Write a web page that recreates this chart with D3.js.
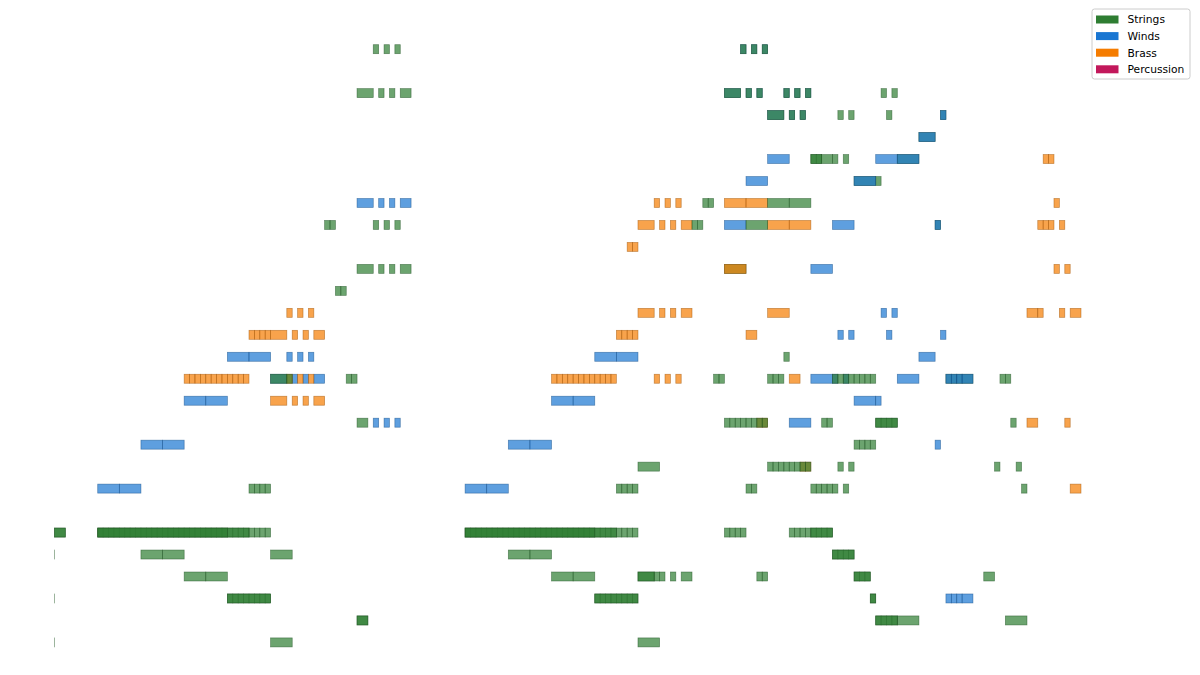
<!DOCTYPE html>
<html><head><meta charset="utf-8">
<script src="https://cdn.jsdelivr.net/npm/d3@7"></script>
<style>body{margin:0;background:#fff}svg{display:block}</style>
</head><body><svg id="c" width="1200" height="675"></svg>
<script>
// Instrument families (legend order) and colours
const families = ['Strings', 'Winds', 'Brass', 'Percussion'];
const familyColors = ['#2e7d32', '#1976d2', '#f57c00', '#c2185b'];

// Notes: [start beat, end beat, pitch]
const windsLayer1 = [
  [15.875,16,79],[16.125,16.25,79],[16.375,16.5,79],
  [15.5,15.875,77],[16,16.125,77],[16.25,16.375,77],[16.875,17,77],[17.125,17.25,77],[17.375,17.5,77],
  [16.5,16.875,76],[17,17.125,76],[17.25,17.375,76],
  [16.5,17,74],[19,19.5,74],
  [16,16.5,73],
  [7,7.375,72],[7.5,7.625,72],[7.75,7.875,72],[8,8.25,72],
  [15.5,16,71],[18,18.5,71],
  [17.5,18,69],
  [19.125,19.25,67],[19.375,19.5,67],
  [18.125,18.25,66],[18.375,18.5,66],[19.25,19.375,66],[20.5,20.625,66],
  [4,4.5,65],[4.5,5,65],[5.375,5.5,65],[5.625,5.75,65],[5.875,6,65],[12.5,13,65],[13,13.5,65],[20,20.375,65],
  [5,5.375,64],[5.5,5.625,64],[5.75,5.875,64],[6,6.25,64],[17.5,18,64],[18,18.125,64],[18.25,18.375,64],[19.5,20,64],
  [3,3.5,63],[3.5,4,63],[11.5,12,63],[12,12.5,63],[18.5,19,63],[19,19.125,63],
  [7.375,7.5,62],[7.625,7.75,62],[7.875,8,62],[17,17.5,62],
  [2,2.5,61],[2.5,3,61],[10.5,11,61],[11,11.5,61],[20.375,20.5,61],
  [1,1.5,59],[1.5,2,59],[9.5,10,59],[10,10.5,59],
  [20.625,20.75,54],[20.75,20.875,54],[20.875,21,54],[21,21.25,54]
];

const brassLayer1 = [
  [22.875,23,74],[23,23.125,74],
  [13.875,14,72],[14.125,14.25,72],[14.375,14.5,72],[15.5,16,72],[16,16.5,72],[23.125,23.25,72],
  [13.5,13.875,71],[14,14.125,71],[14.25,14.375,71],[14.5,14.75,71],[16.5,17,71],[17,17.5,71],
  [22.75,22.875,71],[22.875,23,71],[23,23.125,71],[23.25,23.375,71],
  [13.25,13.375,70],[13.375,13.5,70],
  [23.125,23.25,69],[23.375,23.5,69],
  [5.375,5.5,67],[5.625,5.75,67],[5.875,6,67],[13.5,13.875,67],[14,14.125,67],[14.25,14.375,67],[14.5,14.75,67],
  [16.5,17,67],[22.5,22.75,67],[22.75,22.875,67],[23.25,23.375,67],[23.5,23.75,67],
  [4.5,4.625,66],[4.625,4.75,66],[4.75,4.875,66],[4.875,5,66],[5,5.375,66],[5.5,5.625,66],[5.75,5.875,66],[6,6.25,66],
  [13,13.125,66],[13.125,13.25,66],[13.25,13.375,66],[13.375,13.5,66],[16,16.25,66],
  [3,3.125,64],[3.125,3.25,64],[3.25,3.375,64],[3.375,3.5,64],[3.5,3.625,64],[3.625,3.75,64],
  [3.75,3.875,64],[3.875,4,64],[4,4.125,64],[4.125,4.25,64],[4.25,4.375,64],[4.375,4.5,64],
  [5.375,5.5,64],[5.625,5.75,64],[5.875,6,64],
  [11.5,11.625,64],[11.625,11.75,64],[11.75,11.875,64],[11.875,12,64],[12,12.125,64],[12.125,12.25,64],
  [12.25,12.375,64],[12.375,12.5,64],[12.5,12.625,64],[12.625,12.75,64],[12.75,12.875,64],[12.875,13,64],
  [13.875,14,64],[14.125,14.25,64],[14.375,14.5,64],[17,17.25,64],
  [5,5.375,63],[5.5,5.625,63],[5.75,5.875,63],[6,6.25,63],
  [16.25,16.375,62],[16.375,16.5,62],[22.5,22.75,62],[23.375,23.5,62],
  [17.25,17.375,60],[17.375,17.5,60],
  [23.5,23.75,59]
];

const stringsLayer1 = [
  [7.375,7.5,79],[7.625,7.75,79],[7.875,8,79],[15.875,16,79],[16.125,16.25,79],[16.375,16.5,79],
  [7,7.375,77],[7.5,7.625,77],[7.75,7.875,77],[8,8.25,77],[15.5,15.875,77],[16,16.125,77],[16.25,16.375,77],
  [16.875,17,77],[17.125,17.25,77],[17.375,17.5,77],[19.125,19.25,77],[19.375,19.5,77],
  [16.5,16.875,76],[17,17.125,76],[17.25,17.375,76],[18.125,18.25,76],[18.375,18.5,76],[19.25,19.375,76],
  [17.5,17.625,74],[17.625,17.75,74],[17.75,18,74],[18,18.125,74],[18.25,18.375,74],
  [19,19.125,73],
  [15,15.125,72],[15.125,15.25,72],[16.5,17,72],[17,17.5,72],
  [6.25,6.375,71],[6.375,6.5,71],[7.375,7.5,71],[7.625,7.75,71],[7.875,8,71],[14.75,14.875,71],[14.875,15,71],[16,16.5,71],
  [7,7.375,69],[7.5,7.625,69],[7.75,7.875,69],[8,8.25,69],[15.5,16,69],
  [6.5,6.625,68],[6.625,6.75,68],
  [16.875,17,65],
  [5,5.375,64],[5.375,5.5,64],[6.75,6.875,64],[6.875,7,64],[15.25,15.375,64],[15.375,15.5,64],
  [16.5,16.625,64],[16.625,16.75,64],[16.75,16.875,64],[18,18.125,64],[18.125,18.25,64],[18.25,18.375,64],
  [18.375,18.5,64],[18.5,18.625,64],[18.625,18.75,64],[18.75,18.875,64],[18.875,19,64],[21.875,22,64],[22,22.125,64],
  [7,7.25,62],[15.5,15.625,62],[15.625,15.75,62],[15.75,15.875,62],[15.875,16,62],[16,16.125,62],[16.125,16.25,62],
  [16.25,16.375,62],[16.375,16.5,62],[17.75,17.875,62],[17.875,18,62],[19,19.125,62],[19.125,19.25,62],
  [19.25,19.375,62],[19.375,19.5,62],[22.125,22.25,62],
  [18.5,18.625,61],[18.625,18.75,61],[18.75,18.875,61],[18.875,19,61],
  [13.5,14,60],[16.5,16.625,60],[16.625,16.75,60],[16.75,16.875,60],[16.875,17,60],[17,17.125,60],[17.125,17.25,60],
  [17.25,17.375,60],[17.375,17.5,60],[18.125,18.25,60],[18.375,18.5,60],[21.75,21.875,60],[22.25,22.375,60],
  [4.5,4.625,59],[4.625,4.75,59],[4.75,4.875,59],[4.875,5,59],[13,13.125,59],[13.125,13.25,59],[13.25,13.375,59],
  [13.375,13.5,59],[16,16.125,59],[16.125,16.25,59],[17.5,17.625,59],[17.625,17.75,59],[17.75,17.875,59],
  [17.875,18,59],[18,18.125,59],[18.25,18.375,59],[22.375,22.5,59],
  [0,0.25,57],
  [1,1.125,57],[1.125,1.25,57],[1.25,1.375,57],[1.375,1.5,57],[1.5,1.625,57],[1.625,1.75,57],[1.75,1.875,57],[1.875,2,57],
  [2,2.125,57],[2.125,2.25,57],[2.25,2.375,57],[2.375,2.5,57],[2.5,2.625,57],[2.625,2.75,57],[2.75,2.875,57],[2.875,3,57],
  [3,3.125,57],[3.125,3.25,57],[3.25,3.375,57],[3.375,3.5,57],[3.5,3.625,57],[3.625,3.75,57],[3.75,3.875,57],[3.875,4,57],
  [4,4.125,57],[4.125,4.25,57],[4.25,4.375,57],[4.375,4.5,57],[4.5,4.625,57],[4.625,4.75,57],[4.75,4.875,57],[4.875,5,57],
  [9.5,9.625,57],[9.625,9.75,57],[9.75,9.875,57],[9.875,10,57],[10,10.125,57],[10.125,10.25,57],[10.25,10.375,57],[10.375,10.5,57],
  [10.5,10.625,57],[10.625,10.75,57],[10.75,10.875,57],[10.875,11,57],[11,11.125,57],[11.125,11.25,57],[11.25,11.375,57],[11.375,11.5,57],
  [11.5,11.625,57],[11.625,11.75,57],[11.75,11.875,57],[11.875,12,57],[12,12.125,57],[12.125,12.25,57],[12.25,12.375,57],[12.375,12.5,57],
  [12.5,12.625,57],[12.625,12.75,57],[12.75,12.875,57],[12.875,13,57],[13,13.125,57],[13.125,13.25,57],[13.25,13.375,57],[13.375,13.5,57],
  [15.5,15.625,57],[15.625,15.75,57],[15.75,15.875,57],[15.875,16,57],
  [17,17.125,57],[17.125,17.25,57],[17.25,17.375,57],[17.375,17.5,57],[17.5,17.625,57],[17.625,17.75,57],[17.75,17.875,57],[17.875,18,57],
  [0,0,56],[2,2.5,56],[2.5,3,56],[5,5.5,56],[10.5,11,56],[11,11.5,56],[18,18.125,56],[18.125,18.25,56],[18.25,18.375,56],[18.375,18.5,56],
  [3,3.5,55],[3.5,4,55],[11.5,12,55],[12,12.5,55],[13.5,13.875,55],[13.875,14,55],[14,14.125,55],[14.25,14.375,55],
  [14.5,14.75,55],[16.25,16.375,55],[16.375,16.5,55],[18.5,18.625,55],[18.625,18.75,55],[18.75,18.875,55],[21.5,21.75,55],
  [0,0,54],[4,4.125,54],[4.125,4.25,54],[4.25,4.375,54],[4.375,4.5,54],[4.5,4.625,54],[4.625,4.75,54],[4.75,4.875,54],[4.875,5,54],
  [12.5,12.625,54],[12.625,12.75,54],[12.75,12.875,54],[12.875,13,54],[13,13.125,54],[13.125,13.25,54],[13.25,13.375,54],[13.375,13.5,54],
  [18.875,19,54],
  [7,7.25,53],[19,19.125,53],[19.125,19.25,53],[19.25,19.375,53],[19.375,19.5,53],[19.5,20,53],[22,22.5,53],
  [0,0,52],[5,5.5,52],[13.5,14,52]
];

const stringsLayer2 = [
  [17.5,17.75,74],
  [19,19.5,62],
  [0,0.25,57],[1,4.5,57],[9.5,13,57],[17.5,18,57],
  [18,18.5,56],
  [13.5,13.875,55],[18.5,18.875,55],
  [4,5,54],[12.5,13.5,54],[18.875,19,54],
  [7,7.25,53],[19,19.5,53]
];

const stringsLayer3 = [
  [1,4,57],[9.5,12.5,57],
  [20.5,20.625,76],[20,20.375,75],[19.5,20,74],[18.5,19,73],[20.375,20.5,71],
  [20.625,20.75,64],[20.75,20.875,64],[20.875,21,64],[21,21.25,64]
];

const windsLayer2 = [
  [20.5,20.625,76],[20,20.375,75],[19.5,20,74],[18.5,19,73],[20.375,20.5,71],
  [20.625,20.75,64],[20.75,20.875,64],[20.875,21,64],[21,21.25,64]
];

const brassLayer2 = [[15.5,16,69]];
const percussionNotes = [];

// Drawing order (bottom to top)
const layers = [
  {family: 'Winds', notes: windsLayer1},
  {family: 'Brass', notes: brassLayer1},
  {family: 'Strings', notes: stringsLayer1},
  {family: 'Strings', notes: stringsLayer2},
  {family: 'Strings', notes: stringsLayer3},
  {family: 'Winds', notes: windsLayer2},
  {family: 'Brass', notes: brassLayer2},
  {family: 'Percussion', notes: percussionNotes}
];

const svg = d3.select('#c');
const x = d3.scaleLinear().domain([0, 24]).range([54.5, 1091.8]);
const y = d3.scaleLinear().domain([51.5, 79.5]).range([653.4, 38.2]);
const color = d3.scaleOrdinal().domain(families).range(familyColors);
const barH = 9;

const g = svg.append('g');
layers.forEach(layer => {
  const c = color(layer.family);
  g.append('g').selectAll('rect').data(layer.notes).join('rect')
    .attr('x', d => x(d[0]))
    .attr('width', d => Math.max(x(d[1]) - x(d[0]), 0.05))
    .attr('y', d => y(d[2]) - barH / 2)
    .attr('height', barH)
    .attr('fill', c)
    .attr('fill-opacity', 0.7)
    .attr('stroke', d3.color(c).darker(1.2))
    .attr('stroke-opacity', 0.6)
    .attr('stroke-width', 0.7);
});

// Legend
const lg = svg.append('g').attr('transform', 'translate(1092,9)');
lg.append('rect').attr('width', 98).attr('height', 70).attr('rx', 2.5)
  .attr('fill', '#fff').attr('fill-opacity', 0.85).attr('stroke', '#cccccc').attr('stroke-width', 1);
const items = lg.selectAll('g.item').data(families).join('g')
  .attr('class', 'item')
  .attr('transform', (d, i) => `translate(4,${10.5 + i * 16.6})`);
items.append('rect').attr('x', 0).attr('y', -4).attr('width', 22.5).attr('height', 8)
  .attr('fill', d => color(d));
items.append('text').attr('x', 31.5).attr('y', 0).attr('dy', '0.36em')
  .attr('font-family', 'DejaVu Sans, sans-serif').attr('font-size', 10.7).attr('fill', '#000')
  .text(d => d);
</script>
</body></html>
